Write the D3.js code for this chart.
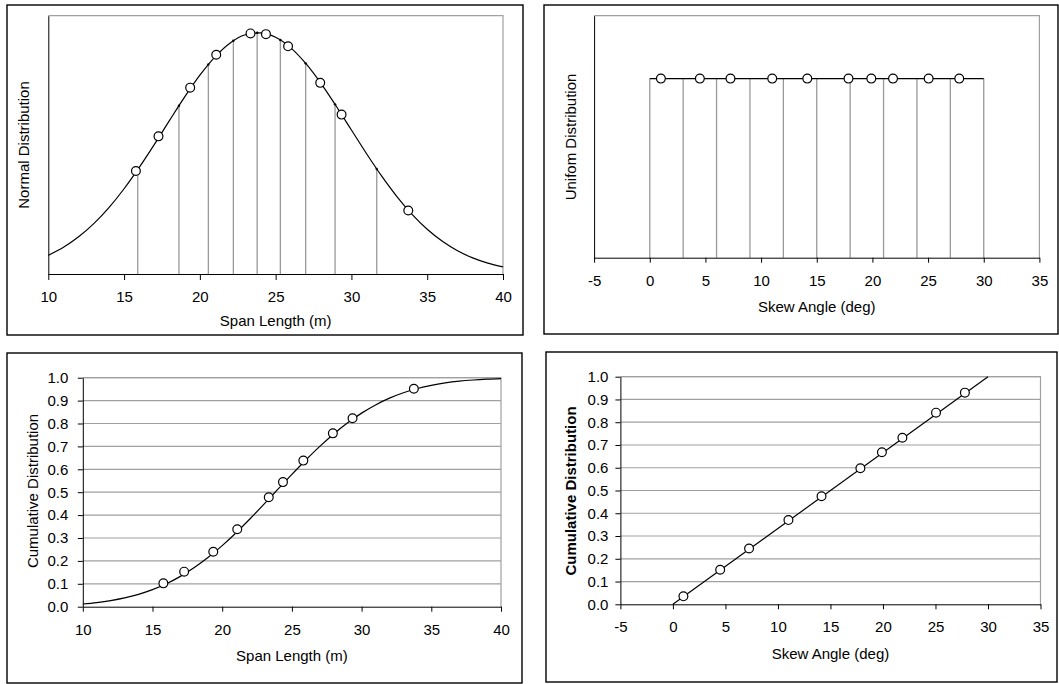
<!DOCTYPE html>
<html>
<head>
<meta charset="utf-8">
<script src="https://cdn.jsdelivr.net/npm/d3@7"></script>
<style>
  body { margin: 0; background: #fff; }
  text { font-family: Arial, "Liberation Sans", sans-serif; fill: #000; }
</style>
</head>
<body>
<svg id="chart" width="1059" height="684"></svg>
<script>
// ---- Span length: fitted normal curve (density and cumulative) ----
const spanCurveX = [10, 11, 12, 13, 14, 15, 16, 17, 18, 19, 20, 21, 22, 23, 24, 25,
                    26, 27, 28, 29, 30, 31, 32, 33, 34, 35, 36, 37, 38, 39, 40];
const spanCurvePdf = [0.00506, 0.00724, 0.01007, 0.01364, 0.01799, 0.02310, 0.02888, 0.03513,
                      0.04162, 0.04799, 0.05387, 0.05886, 0.06261, 0.06484, 0.06536, 0.06415,
                      0.06128, 0.05699, 0.05160, 0.04547, 0.03902, 0.03259, 0.02650, 0.02097,
                      0.01616, 0.01212, 0.00885, 0.00629, 0.00436, 0.00293, 0.00192];
const spanCurveCdf = [0.0118, 0.0179, 0.0265, 0.0383, 0.0541, 0.0746, 0.1005, 0.1325,
                      0.1709, 0.2157, 0.2666, 0.3231, 0.3840, 0.4478, 0.5131, 0.5780,
                      0.6408, 0.7001, 0.7544, 0.8030, 0.8453, 0.8811, 0.9106, 0.9342,
                      0.9527, 0.9668, 0.9772, 0.9848, 0.9900, 0.9936, 0.9960];

// Decile boundaries drawn as drop lines under the density curve
const spanDecileX   = [15.90, 18.62, 20.56, 22.21, 23.78, 25.31, 26.98, 28.92, 31.67];
const spanDecilePdf = [0.02827, 0.04560, 0.05680, 0.06322, 0.06540, 0.06343, 0.05709, 0.04598, 0.02846];

// Sampled span lengths
const spanSampleX   = [15.78, 17.27, 19.36, 21.08, 23.34, 24.36, 25.82, 27.94, 29.35, 33.75];
const spanSamplePdf = [0.0279, 0.0373, 0.0505, 0.0594, 0.0652, 0.0650, 0.0617, 0.0518, 0.0432, 0.0172];
const spanSampleCdf = [0.102, 0.153, 0.240, 0.338, 0.478, 0.544, 0.638, 0.757, 0.823, 0.952];

// ---- Skew angle: uniform distribution on [0, 30] ----
const skewRange = [0, 30];
const skewDensity = 0.0333;
const skewStripEdges = [0, 3, 6, 9, 12, 15, 18, 21, 24, 27, 30];
const skewCdfLine = [0, 1];
const skewSampleX   = [1.0, 4.5, 7.25, 11.0, 14.15, 17.85, 19.9, 21.85, 25.05, 27.8];
const skewSampleCdf = [0.035, 0.152, 0.245, 0.370, 0.475, 0.598, 0.668, 0.732, 0.842, 0.930];

// ---- Axis ticks ----
const spanTicks = [10, 15, 20, 25, 30, 35, 40];
const skewTicks = [-5, 0, 5, 10, 15, 20, 25, 30, 35];
const cdfTicks  = [0, 0.1, 0.2, 0.3, 0.4, 0.5, 0.6, 0.7, 0.8, 0.9, 1.0];

const svg = d3.select("#chart");
const GRID = "#a0a0a0";
const FS = 15;

function frame(box) {
  svg.append("rect")
    .attr("x", box.x0).attr("y", box.y0)
    .attr("width", box.x1 - box.x0).attr("height", box.y1 - box.y0)
    .attr("fill", "none").attr("stroke", "#000").attr("stroke-width", 1.4);
}

function styleAxis(g) {
  g.selectAll(".domain").attr("stroke", "#000").attr("stroke-width", 1);
  g.selectAll(".tick line").attr("stroke", "#000").attr("stroke-width", 1);
  g.selectAll(".tick text").attr("font-size", FS)
    .attr("font-family", 'Arial, "Liberation Sans", sans-serif').attr("fill", "#000");
  g.attr("font-size", null).attr("font-family", null);
}

function plotBorder(p) {
  // gray top and right edges of the plot area
  svg.append("path")
    .attr("d", `M${p.x0},${p.y0}H${p.x1}V${p.y1}`)
    .attr("fill", "none").attr("stroke", GRID).attr("stroke-width", 1.2);
}

function xAxis(x, p, tickVals, tickSize, pad) {
  const g = svg.append("g").attr("transform", `translate(0,${p.y1})`)
    .call(d3.axisBottom(x).tickValues(tickVals).tickSize(tickSize).tickSizeOuter(0)
      .tickPadding(pad).tickFormat(d => String(d)));
  styleAxis(g);
}

function yAxisBare(y, p) {
  const g = svg.append("g").attr("transform", `translate(${p.x0},0)`)
    .call(d3.axisLeft(y).tickValues([]).tickSizeOuter(0));
  styleAxis(g);
}

function yAxisCdf(y, p, pad) {
  svg.append("g").selectAll("line").data(cdfTicks.slice(1)).join("line")
    .attr("x1", p.x0).attr("x2", p.x1)
    .attr("y1", d => y(d)).attr("y2", d => y(d))
    .attr("stroke", GRID).attr("stroke-width", 1.2);
  const g = svg.append("g").attr("transform", `translate(${p.x0},0)`)
    .call(d3.axisLeft(y).tickValues(cdfTicks).tickSize(5).tickSizeOuter(0)
      .tickPadding(pad).tickFormat(d3.format(".1f")));
  styleAxis(g);
}

function title(txt, cx, cy, rotate, bold) {
  const t = svg.append("text").text(txt)
    .attr("font-size", FS)
    .attr("text-anchor", "middle")
    .attr("dominant-baseline", "central");
  if (bold) t.attr("font-weight", "bold");
  if (rotate) t.attr("transform", `translate(${cx},${cy}) rotate(-90)`);
  else t.attr("x", cx).attr("y", cy);
}

function circles(xs, ys, x, y) {
  svg.append("g").selectAll("circle").data(xs).join("circle")
    .attr("cx", d => x(d)).attr("cy", (d, i) => y(ys[i]))
    .attr("r", 4.4).attr("fill", "#fff").attr("stroke", "#000").attr("stroke-width", 1.2);
}

// ===== Panel 1: normal density of span length =====
{
  frame({ x0: 7, y0: 5, x1: 523, y1: 335 });
  const p = { x0: 48.3, x1: 503, y0: 15.7, y1: 274 };
  const x = d3.scaleLinear().domain([10, 40]).range([p.x0, p.x1]);
  const y = d3.scaleLinear().domain([0, 0.07]).range([p.y1, p.y0]);
  plotBorder(p);
  svg.append("g").selectAll("line").data(spanDecileX).join("line")
    .attr("x1", d => x(d)).attr("x2", d => x(d))
    .attr("y1", y(0)).attr("y2", (d, i) => y(spanDecilePdf[i]))
    .attr("stroke", "#999").attr("stroke-width", 1.3);
  svg.append("path")
    .datum(spanCurveX.map((d, i) => [d, spanCurvePdf[i]]))
    .attr("d", d3.line().x(d => x(d[0])).y(d => y(d[1])).curve(d3.curveMonotoneX))
    .attr("fill", "none").attr("stroke", "#000").attr("stroke-width", 1.2);
  svg.append("g").selectAll("circle").data(spanDecileX).join("circle")
    .attr("cx", d => x(d)).attr("cy", (d, i) => y(spanDecilePdf[i]))
    .attr("r", 1.2).attr("fill", "#000");
  circles(spanSampleX, spanSamplePdf, x, y);
  yAxisBare(y, p);
  xAxis(x, p, spanTicks, 6, 11.5);
  title("Span Length (m)", (p.x0 + p.x1) / 2, 320);
  title("Normal Distribution", 23.6, 145, true);
}

// ===== Panel 2: uniform density of skew angle =====
{
  frame({ x0: 544, y0: 5, x1: 1058, y1: 334 });
  const p = { x0: 594.1, x1: 1039.4, y0: 15.7, y1: 257.7 };
  const x = d3.scaleLinear().domain([-5, 35]).range([p.x0, p.x1]);
  const y = d3.scaleLinear().domain([0, 0.045]).range([p.y1, p.y0]);
  plotBorder(p);
  svg.append("g").selectAll("line").data(skewStripEdges).join("line")
    .attr("x1", d => x(d)).attr("x2", d => x(d))
    .attr("y1", y(0)).attr("y2", y(skewDensity))
    .attr("stroke", "#999").attr("stroke-width", 1.3);
  svg.append("line")
    .attr("x1", x(skewRange[0])).attr("x2", x(skewRange[1]))
    .attr("y1", y(skewDensity)).attr("y2", y(skewDensity))
    .attr("stroke", "#000").attr("stroke-width", 1.2);
  circles(skewSampleX, skewSampleX.map(() => skewDensity), x, y);
  yAxisBare(y, p);
  xAxis(x, p, skewTicks, 5, 12.5);
  title("Skew Angle (deg)", (p.x0 + p.x1) / 2, 306.7);
  title("Unifom Distribution", 570, 137, true);
}

// ===== Panel 3: cumulative distribution of span length =====
{
  frame({ x0: 7, y0: 353, x1: 522, y1: 683 });
  const p = { x0: 82.8, x1: 501, y0: 377.7, y1: 606.7 };
  const x = d3.scaleLinear().domain([10, 40]).range([p.x0, p.x1]);
  const y = d3.scaleLinear().domain([0, 1]).range([p.y1, p.y0]);
  plotBorder(p);
  yAxisCdf(y, p, 9.5);
  svg.append("path")
    .datum(spanCurveX.map((d, i) => [d, spanCurveCdf[i]]))
    .attr("d", d3.line().x(d => x(d[0])).y(d => y(d[1])).curve(d3.curveMonotoneX))
    .attr("fill", "none").attr("stroke", "#000").attr("stroke-width", 1.2);
  circles(spanSampleX, spanSampleCdf, x, y);
  xAxis(x, p, spanTicks, 5, 12.5);
  title("Span Length (m)", (p.x0 + p.x1) / 2, 655);
  title("Cumulative Distribution", 32, 491, true);
}

// ===== Panel 4: cumulative distribution of skew angle =====
{
  frame({ x0: 546, y0: 352, x1: 1057, y1: 682 });
  const p = { x0: 620.4, x1: 1040.5, y0: 376.7, y1: 604.3 };
  const x = d3.scaleLinear().domain([-5, 35]).range([p.x0, p.x1]);
  const y = d3.scaleLinear().domain([0, 1]).range([p.y1, p.y0]);
  plotBorder(p);
  yAxisCdf(y, p, 7);
  svg.append("line")
    .attr("x1", x(skewRange[0])).attr("x2", x(skewRange[1]))
    .attr("y1", y(skewCdfLine[0])).attr("y2", y(skewCdfLine[1]))
    .attr("stroke", "#000").attr("stroke-width", 1.2);
  circles(skewSampleX, skewSampleCdf, x, y);
  xAxis(x, p, skewTicks, 5, 12.5);
  title("Skew Angle (deg)", (p.x0 + p.x1) / 2, 653);
  title("Cumulative Distribution", 570.5, 491, true, true);
}
</script>
</body>
</html>
